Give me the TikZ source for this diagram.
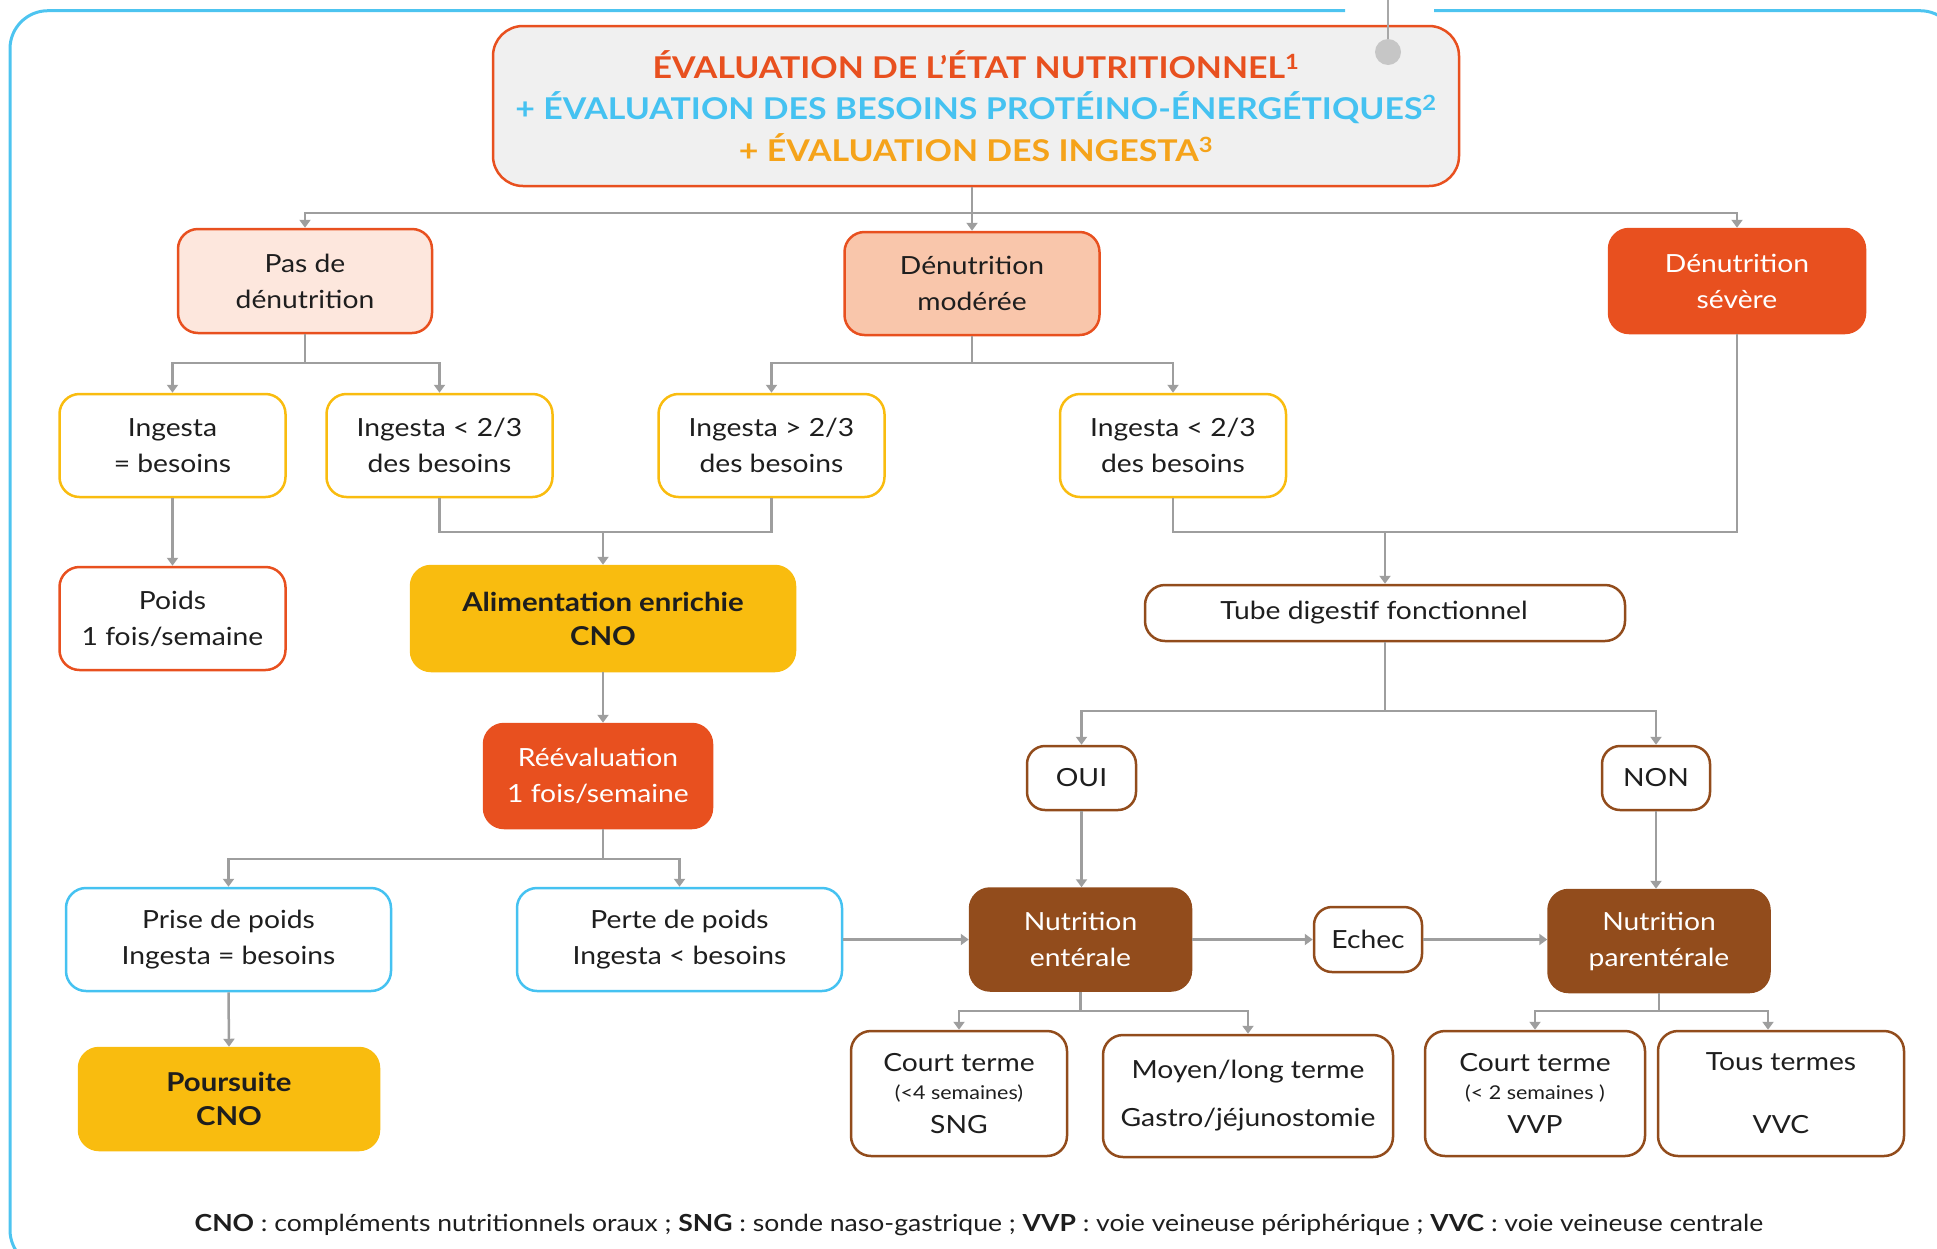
\documentclass[tikz,border=0pt]{standalone}
\usepackage{fontspec}
\setmainfont{Lato}[FakeStretch=1.13]
\usetikzlibrary{arrows.meta}

\definecolor{orangeR}{HTML}{E8501F}
\definecolor{bleuC}{HTML}{45C2F1}
\definecolor{ambre}{HTML}{F5A31A}
\definecolor{jaune}{HTML}{F9BC0F}
\definecolor{peche}{HTML}{FDE7DD}
\definecolor{saumon}{HTML}{F9C6AB}
\definecolor{brun}{HTML}{924C1C}
\definecolor{gris}{HTML}{9E9E9E}
\definecolor{grisfond}{HTML}{F0F0F0}
\definecolor{grispin}{HTML}{C6C6C6}
\definecolor{cadre}{HTML}{4DC4F0}
\definecolor{encre}{HTML}{1E1E1E}

\tikzset{
	boite/.style={rounded corners=20pt, line width=2.5pt, align=center, inner sep=0pt, text=encre, font=\fontsize{25}{36}\selectfont},
	dims/.style 2 args={minimum width=#1pt, minimum height=#2pt},
	titrebox/.style={boite, rounded corners=30pt, draw=orangeR, fill=grisfond, font=\bfseries\fontsize{30}{41.5}\selectfont},
	paleo/.style={boite, draw=orangeR, fill=peche},
	moyo/.style={boite, draw=orangeR, fill=saumon},
	pleino/.style={boite, draw=orangeR, fill=orangeR, text=white},
	ingbox/.style={boite, draw=jaune, fill=white},
	poidsbox/.style={boite, draw=orangeR, fill=white},
	cnobox/.style={boite, draw=jaune, fill=jaune, font=\bfseries\fontsize{26}{34}\selectfont},
	bleubox/.style={boite, draw=bleuC, fill=white},
	brunbox/.style={boite, draw=brun, fill=white},
	brunplein/.style={boite, draw=brun, fill=brun, text=white},
	ln/.style={draw=gris, line width=2.5pt},
	arr/.style={ln, -{Triangle[width=11pt,length=8pt]}}
}

\begin{document}
\begin{tikzpicture}[x=1pt,y=1pt,yscale=-1,xscale=1]
		\useasboundingbox (0,0) rectangle (1937,1248);
		
		%Shape: Frame
		\draw [cadre, line width=3pt, rounded corners=38pt] (1434,10.7) -- (1958,10.7) -- (1958,1268) -- (10,1268) -- (10,10.7) -- (1345,10.7) ;
		
		% Text Node
		\node [titrebox, dims={966}{160}] (titre) at (976,106) {{\color{orangeR}ÉVALUATION DE L’ÉTAT NUTRITIONNEL\textsuperscript{1}}\\{\color{bleuC}+ ÉVALUATION DES BESOINS PROTÉINO-ÉNERGÉTIQUES\textsuperscript{2}}\\{\color{ambre}+ ÉVALUATION DES INGESTA\textsuperscript{3}}};
		%Shape: Pin
		\draw [grispin!85!black, line width=2pt] (1388,0) -- (1388,45) ;
		\fill [grispin] (1388,52) circle (13) ;
		
		% Text Node
		\node [paleo, dims={254}{104}] (pasden) at (305,281) {Pas de\\dénutrition};
		% Text Node
		\node [moyo, dims={255}{103}] (denmod) at (972,283.5) {Dénutrition\\modérée};
		% Text Node
		\node [pleino, dims={256}{104}] (densev) at (1737,281) {Dénutrition\\sévère};
		
		% Text Node
		\node [ingbox, dims={226}{103}] (ingEgal) at (172.5,445.5) {Ingesta\\= besoins};
		% Text Node
		\node [ingbox, dims={226}{103}] (ingInfA) at (439.5,445.5) {Ingesta < 2/3\\des besoins};
		% Text Node
		\node [ingbox, dims={226}{103}] (ingSup) at (771.5,445.5) {Ingesta > 2/3\\des besoins};
		% Text Node
		\node [ingbox, dims={226}{103}] (ingInfB) at (1173,445.5) {Ingesta < 2/3\\des besoins};
		
		% Text Node
		\node [poidsbox, dims={226}{103}] (poids) at (172.5,618.5) {Poids\\1 fois/semaine};
		% Text Node
		\node [cnobox, dims={384}{105}] (alim) at (603,618.5) {Alimentation enrichie\\CNO};
		% Text Node
		\node [brunbox, dims={480}{56}] (tube) at (1385,613) {\hspace*{-22pt}Tube digestif fonctionnel};
		% Text Node
		\node [pleino, dims={228}{104}] (reeval) at (598,776) {Réévaluation\\1 fois/semaine};
		% Text Node
		\node [brunbox, rounded corners=18pt, dims={109}{64}] (oui) at (1081.5,778) {OUI};
		% Text Node
		\node [brunbox, rounded corners=18pt, dims={108}{64}] (non) at (1656,778) {NON};
		
		% Text Node
		\node [bleubox, dims={325}{103}] (prise) at (228.5,939.5) {Prise de poids\\Ingesta = besoins};
		% Text Node
		\node [bleubox, dims={325}{103}] (perte) at (679.5,939.5) {Perte de poids\\Ingesta < besoins};
		% Text Node
		\node [brunplein, dims={221}{102}] (enterale) at (1080.5,939.5) {Nutrition\\entérale};
		% Text Node
		\node [brunbox, rounded corners=18pt, dims={108}{65}] (echec) at (1368,939.5) {Echec};
		% Text Node
		\node [brunplein, dims={221}{102}] (parent) at (1659,941) {Nutrition\\parentérale};
		
		% Text Node
		\node [cnobox, dims={300}{102}] (poursuite) at (229,1099) {Poursuite\\CNO};
		% Text Node
		\node [brunbox, dims={216}{125}] (courtSng) at (959,1093.5) {Court terme\\[-8pt]{\fontsize{19}{20}\selectfont(<4 semaines)}\\[-2pt]SNG};
		% Text Node
		\node [brunbox, dims={290}{122}] (moyenLong) at (1248,1096) {Moyen/long terme\\[12pt]Gastro/jéjunostomie};
		% Text Node
		\node [brunbox, dims={220}{125}] (courtVvp) at (1535,1093.5) {Court terme\\[-8pt]{\fontsize{19}{20}\selectfont(< 2 semaines )}\\[-2pt]VVP};
		% Text Node
		\node [brunbox, dims={246}{125}] (tousTermes) at (1781,1093.5) {Tous termes\\[27pt]VVC};
		
		% Text Node
		\node [font=\fontsize{23.5}{26}\selectfont, text=encre, inner sep=0pt] (legende) at (979,1225) {\textbf{CNO} : compléments nutritionnels oraux ; \textbf{SNG} : sonde naso-gastrique ; \textbf{VVP} : voie veineuse périphérique ; \textbf{VVC} : voie veineuse centrale};
		
		%Straight Lines
		\coordinate (splitTitre) at (972,213) ;
		\coordinate (splitPas) at (305,363) ;
		\coordinate (splitMod) at (972,363) ;
		\coordinate (jonctionA) at (603,532) ;
		\coordinate (jonctionB) at (1385,532) ;
		\coordinate (splitReeval) at (603,859) ;
		\coordinate (splitTube) at (1385,711) ;
		\coordinate (splitEnt) at (1080.5,1011) ;
		\coordinate (splitPar) at (1659,1011) ;
		
		\draw [arr] (titre.south -| splitTitre) -- (denmod.north) ;
		\draw [arr] (splitTitre) -| (pasden.north) ;
		\draw [arr] (splitTitre) -| (densev.north) ;
		
		\draw [ln] (pasden.south) -- (splitPas) ;
		\draw [arr] (splitPas) -| (ingEgal.north) ;
		\draw [arr] (splitPas) -| (ingInfA.north) ;
		\draw [ln] (denmod.south) -- (splitMod) ;
		\draw [arr] (splitMod) -| (ingSup.north) ;
		\draw [arr] (splitMod) -| (ingInfB.north) ;
		
		\draw [arr] (ingEgal.south) -- (poids.north) ;
		\draw [ln] (ingInfA.south) |- (jonctionA) -| (ingSup.south) ;
		\draw [arr] (jonctionA) -- (alim.north) ;
		\draw [ln] (ingInfB.south) |- (jonctionB) -| (densev.south) ;
		\draw [arr] (jonctionB) -- (tube.north) ;
		
		\draw [arr] (alim.south) -- (alim.south |- reeval.north) ;
		\draw [ln] (reeval.south -| splitReeval) -- (splitReeval) ;
		\draw [arr] (splitReeval) -| (prise.north) ;
		\draw [arr] (splitReeval) -| (perte.north) ;
		\draw [arr] (prise.south) -- (poursuite.north) ;
		\draw [arr] (perte.east) -- (enterale.west) ;
		
		\draw [ln] (tube.south) -- (splitTube) ;
		\draw [arr] (splitTube) -| (oui.north) ;
		\draw [arr] (splitTube) -| (non.north) ;
		\draw [arr] (oui.south) -- (oui.south |- enterale.north) ;
		\draw [arr] (non.south) -- (non.south |- parent.north) ;
		\draw [arr] (enterale.east) -- (echec.west) ;
		\draw [arr] (echec.east) -- (echec.east -| parent.west) ;
		
		\draw [ln] (enterale.south) -- (splitEnt) ;
		\draw [arr] (splitEnt) -| (courtSng.north) ;
		\draw [arr] (splitEnt) -| (moyenLong.north) ;
		\draw [ln] (parent.south) -- (splitPar) ;
		\draw [arr] (splitPar) -| (courtVvp.north) ;
		\draw [arr] (splitPar) -| ([xshift=-13pt]tousTermes.north) ;
		
\end{tikzpicture}
\end{document}
